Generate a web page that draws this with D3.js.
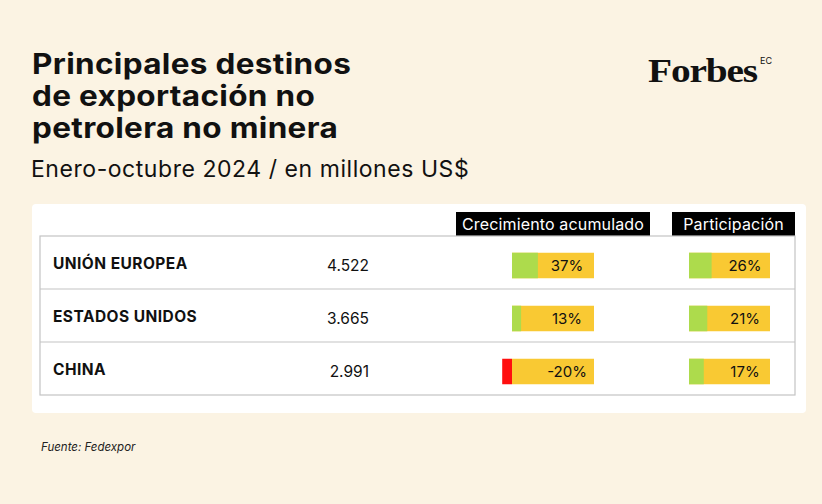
<!DOCTYPE html>
<html><head><meta charset="utf-8">
<script src="https://cdn.jsdelivr.net/npm/d3@7"></script>
<style>
html,body{margin:0;padding:0;background:#FBF3E3;}
svg{display:block;}
</style></head>
<body>
<script>
const titleLines = ["Principales destinos","de exportación no","petrolera no minera"];
const subtitle = "Enero-octubre 2024 / en millones US$";
const source = "Fuente: Fedexpor";
const columnHeaders = ["Crecimiento acumulado","Participación"];
const categories = ["UNIÓN EUROPEA","ESTADOS UNIDOS","CHINA"];
const exportsM = [4522, 3665, 2991];
const growth = [37, 13, -20];
const share = [26, 21, 17];

const W = 822, H = 504;
const C = {bg:"#FBF3E3", panel:"#FFFFFF", line:"#C4C4C4", green:"#ADDB4C", yellow:"#F9C933", red:"#FF0F0F", text:"#111111"};
const FONT = "Inter, 'Noto Sans', sans-serif";

const svg = d3.select("body").append("svg").attr("width", W).attr("height", H);
svg.append("rect").attr("width", W).attr("height", H).attr("fill", C.bg);

// Title
const title = svg.append("text").attr("transform", "translate(32,0) scale(1.125,1)")
  .attr("font-family", FONT).attr("font-weight", 700)
  .attr("font-size", 28).attr("fill", C.text).attr("letter-spacing", 0.3);
titleLines.forEach((t, i) => title.append("tspan").attr("x", 0).attr("y", 74 + i * 32).text(t));
svg.append("text").attr("x", 31).attr("y", 177).attr("font-family", FONT).attr("font-size", 23)
  .attr("fill", C.text).attr("letter-spacing", 0.55).text(subtitle);

// Logo
svg.append("text").attr("x", 648).attr("y", 82).attr("font-family", "'Liberation Serif', 'DejaVu Serif', serif")
  .attr("font-weight", 700).attr("font-size", 34).attr("fill", "#111").attr("textLength", 109)
  .attr("lengthAdjust", "spacingAndGlyphs").attr("letter-spacing", -1).text("Forbes");
svg.append("text").attr("x", 760).attr("y", 64).attr("font-family", FONT).attr("font-size", 9)
  .attr("fill", "#111").text("EC");

// Panel
svg.append("rect").attr("x", 32).attr("y", 204).attr("width", 774).attr("height", 209)
  .attr("rx", 4).attr("fill", C.panel);

// Table geometry
const tx0 = 40, tx1 = 795, ty0 = 236, ty1 = 395;
const y = d3.scaleBand().domain(categories).range([ty0, ty1]);

// Headers
const headerBoxes = [{x0: 456, x1: 650}, {x0: 672, x1: 795}];
columnHeaders.forEach((h, i) => {
  const b = headerBoxes[i];
  svg.append("rect").attr("x", b.x0).attr("y", 212).attr("width", b.x1 - b.x0).attr("height", 24).attr("fill", "#000");
  svg.append("text").attr("x", (b.x0 + b.x1) / 2).attr("y", 230).attr("text-anchor", "middle")
    .attr("font-family", FONT).attr("font-size", 16).attr("letter-spacing", 0.15)
    .attr("fill", "#fff").text(h);
});

// Borders
svg.append("rect").attr("x", tx0).attr("y", ty0).attr("width", tx1 - tx0).attr("height", ty1 - ty0)
  .attr("fill", "none").attr("stroke", C.line).attr("stroke-width", 1.2);
svg.selectAll("line.row").data(categories.slice(1)).enter().append("line")
  .attr("x1", tx0).attr("x2", tx1).attr("y1", d => y(d)).attr("y2", d => y(d))
  .attr("stroke", C.line).attr("stroke-width", 1.2);

const locale = d3.formatLocale({decimal: ",", thousands: ".", grouping: [3], currency: ["$", ""]});
const fmt = locale.format(",d");

const rows = categories.map((c, i) => ({c, v: exportsM[i], g: growth[i], s: share[i]}));
const mid = d => y(d.c) + y.bandwidth() / 2;

svg.selectAll("text.cat").data(rows).enter().append("text")
  .attr("x", 53).attr("y", d => mid(d) + 6).attr("font-family", FONT).attr("font-weight", 700)
  .attr("font-size", 15.5).attr("letter-spacing", 0.45).attr("fill", C.text).text(d => d.c);
svg.selectAll("text.val").data(rows).enter().append("text")
  .attr("x", 369).attr("y", d => mid(d) + 8).attr("text-anchor", "end").attr("font-family", FONT)
  .attr("font-size", 15.5).attr("fill", C.text).text(d => fmt(d.v));

// Growth bars
const gZero = 512, gEnd = 594, barH = 25.5;
const gScale = d3.scaleLinear().domain([0, 100]).range([0, 70]);
const barY = d => mid(d) + 3 - barH / 2;
svg.selectAll("rect.gtrack").data(rows).enter().append("rect")
  .attr("x", gZero).attr("y", barY).attr("width", gEnd - gZero).attr("height", barH).attr("fill", C.yellow);
svg.selectAll("rect.gval").data(rows).enter().append("rect")
  .attr("x", d => d.g >= 0 ? gZero : gZero - gScale(-d.g) * 0.7)
  .attr("y", barY).attr("width", d => d.g >= 0 ? gScale(d.g) : gScale(-d.g) * 0.7)
  .attr("height", barH).attr("fill", d => d.g >= 0 ? C.green : C.red);
svg.selectAll("text.gl").data(rows).enter().append("text")
  .attr("x", 567).attr("y", d => barY(d) + 18).attr("text-anchor", "middle")
  .attr("font-family", FONT).attr("font-size", 15).attr("fill", C.text).text(d => d.g + "%");

// Share bars
const sZero = 689, sEnd = 770;
const sScale = d3.scaleLinear().domain([0, 100]).range([0, 87]);
svg.selectAll("rect.strack").data(rows).enter().append("rect")
  .attr("x", sZero).attr("y", barY).attr("width", sEnd - sZero).attr("height", barH).attr("fill", C.yellow);
svg.selectAll("rect.sval").data(rows).enter().append("rect")
  .attr("x", sZero).attr("y", barY).attr("width", d => sScale(d.s)).attr("height", barH).attr("fill", C.green);
svg.selectAll("text.sl").data(rows).enter().append("text")
  .attr("x", 745).attr("y", d => barY(d) + 18).attr("text-anchor", "middle")
  .attr("font-family", FONT).attr("font-size", 15).attr("fill", C.text).text(d => d.s + "%");

// Source
svg.append("text").attr("x", 41).attr("y", 451).attr("font-family", FONT).attr("font-style", "italic")
  .attr("font-size", 11.5).attr("fill", "#222").text(source);
</script>
</body></html>
